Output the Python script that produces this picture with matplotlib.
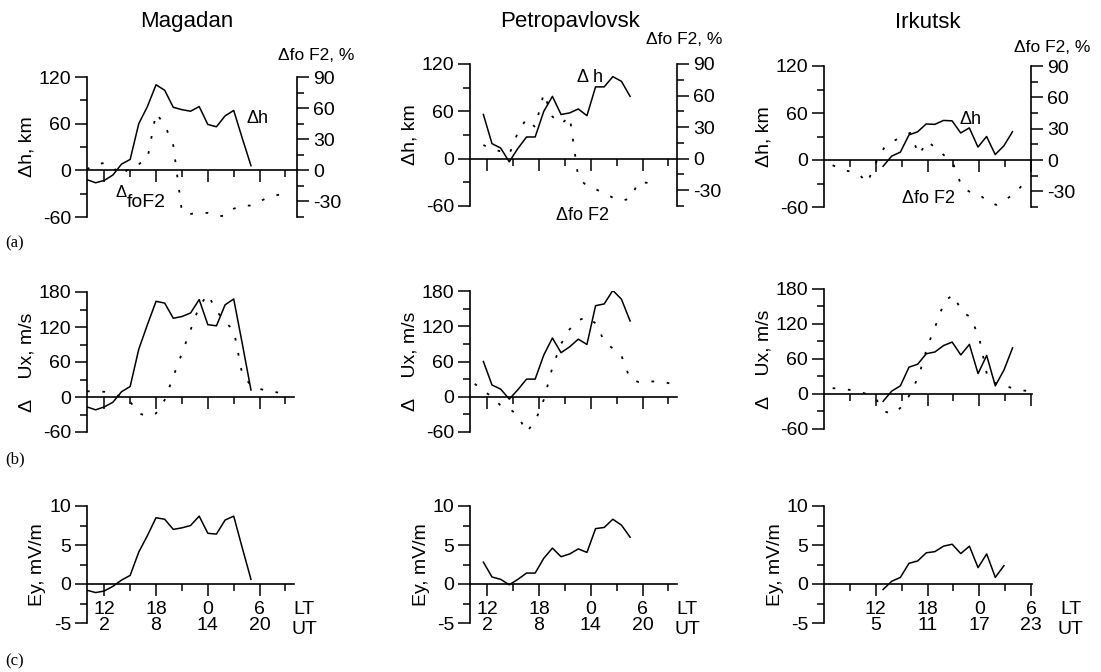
import matplotlib
matplotlib.use('Agg')
import matplotlib.pyplot as plt

plt.rcParams['font.family'] = ['Liberation Sans', 'DejaVu Sans']
plt.rcParams['axes.unicode_minus'] = False

# ---- data (LT hours, 24 = local midnight) ----
mag_lt = list(range(10, 30))
mag_dh = [-12, -16, -13, -6, 8, 14, 60, 82, 110, 103, 81, 78, 76, 82, 59, 56, 70, 77, 41, 6]
mag_ux = [-17, -22, -17, -9, 9, 18, 82, 124, 164, 161, 135, 138, 144, 167, 124, 122, 158, 168, 91, 12]
mag_ey = [-0.8, -1.1, -0.9, -0.3, 0.5, 1.1, 4.1, 6.2, 8.5, 8.3, 7.0, 7.2, 7.5, 8.7, 6.5, 6.4, 8.2, 8.7, 4.6, 0.6]
mag_dot_lt = list(range(10, 34))
mag_fof2 = [1, 6, 7, 3, -5, 3, 6, 11, 55, 44, 24, -40, -42, -41, -41, -44, -44, -37, -34, -34, -30, -26, -24, -22]
mag_ux_dot = [10, 9, 9, 5, 0, -8, -28, -33, -28, -5, 35, 75, 115, 155, 176, 148, 128, 115, 38, 20, 14, 10, 8, 6]

pet_lt = [11.55 + k for k in range(18)]
pet_dh = [56, 19, 13.5, -4, 13, 27.5, 27.5, 60, 79, 56, 58, 63, 54.5, 91, 91, 104, 98, 79]
pet_ux = [60, 20, 13, -4, 12, 30, 30, 71, 100, 75, 85, 98, 89, 155, 158, 181, 166, 129]
pet_ey = [2.8, 0.9, 0.6, -0.1, 0.6, 1.4, 1.4, 3.3, 4.6, 3.5, 3.85, 4.5, 4.05, 7.1, 7.25, 8.3, 7.55, 6.0]
pet_fof2_lt = [11.55 + k for k in range(21)]
pet_fof2 = [13, 9, 7, 4, 25, 38, 30, 62, 40, 33, 40, -18, -26, -29, -33, -37, -40, -38, -22, -23, -25]
pet_ux_dot_lt = [10.55 + k for k in range(24)]
pet_ux_dot = [22, 10, 0, -15, -20, -32, -60, -42, -5, 50, 90, 115, 130, 136, 125, 95, 82, 70, 30, 25, 26, 26, 25, 21]

irk_lt = [12.85 + k for k in range(16)]
irk_dh = [-8, 5, 10, 32, 36, 46, 45.5, 50.5, 50, 34.5, 41, 16.5, 30, 7, 18, 36]
irk_ux = [-12.5, 5, 14, 46, 51, 69, 72, 83, 89, 67, 85, 35, 66, 14, 41, 79]
irk_ey = [-0.7, 0.35, 0.85, 2.65, 2.95, 4.0, 4.15, 4.85, 5.1, 3.9, 4.85, 2.1, 3.85, 0.85, 2.35]
irk_dot_lt = list(range(7, 31))
irk_fof2 = [-5, -9, -11, -13, -22, -3, 12, 18, 22, 26, 5, 18, 11, 4, -4, -26, -31, -33, -40, -43, -38, -33, -24, -20]
irk_ux_dot = [10, 9, 7, 4, 0, -8, -30, -34, -22, 0, 32, 82, 120, 160, 170, 140, 132, 95, 25, 18, 14, 9, 6, 5]

mag_xlab = ['12\n2', '18\n8', '0\n14', '6\n20']
irk_xlab = ['12\n5', '18\n11', '0\n17', '6\n23']

W, H = 1101, 672
PX_H = 8.63  # pixels per hour
FS = 14
fig = plt.figure(figsize=(W / 100, H / 100), dpi=100)
DOT = (0, (1.5, 7))


def add_px(l, t, r, b):
    return fig.add_axes([l / W, 1 - b / H, (r - l) / W, (b - t) / H])


def style(ax, x0, width, ylim, ymaj, ymin, xmin, xlabels=None):
    ax.set_xlim(x0, x0 + width / PX_H)
    ax.set_ylim(*ylim)
    ax.patch.set_visible(False)
    ax.spines['top'].set_visible(False)
    ax.spines['right'].set_visible(False)
    ax.spines['bottom'].set_position(('data', 0))
    for s in ('left', 'bottom'):
        ax.spines[s].set_linewidth(1.2)
    ax.set_xticks([12, 18, 24, 30])
    ax.set_xticks(xmin, minor=True)
    ax.set_yticks(ymaj)
    ax.set_yticks(ymin, minor=True)
    ax.set_yticklabels([f'{v:g}' for v in ymaj])
    if xlabels:
        ax.set_xticklabels(xlabels, linespacing=0.95)
    else:
        ax.set_xticklabels([])
    ax.tick_params(which='major', direction='out', length=8.5, width=1.1, labelsize=FS, pad=3)
    ax.tick_params(which='minor', direction='out', length=5, width=1.1)
    ax.tick_params(axis='x', which='major', pad=3.5)


cols = [
    dict(l=87, r=297, x0=10, lt=mag_lt, dh=mag_dh, ux=mag_ux, ey=mag_ey,
         flt=mag_dot_lt, fof2=mag_fof2, ult=mag_dot_lt, udot=mag_ux_dot,
         xmin=[15, 21, 27, 33], xlab=mag_xlab, ta=(187, 'Magadan'),
         rows=[(77, 217), (292, 432), (506, 623)], wb=207),
    dict(l=470, r=677, x0=10, lt=pet_lt, dh=pet_dh, ux=pet_ux, ey=pet_ey,
         flt=pet_fof2_lt, fof2=pet_fof2, ult=pet_ux_dot_lt, udot=pet_ux_dot,
         xmin=[15, 21, 27, 33], xlab=mag_xlab, ta=(570, 'Petropavlovsk'),
         rows=[(64, 206), (291, 432), (506, 623)], wb=207),
    dict(l=824, r=1031, x0=6, lt=irk_lt, dh=irk_dh, ux=irk_ux, ey=irk_ey,
         flt=irk_dot_lt, fof2=irk_fof2, ult=irk_dot_lt, udot=irk_ux_dot,
         xmin=[9, 15, 21, 27], xlab=irk_xlab, ta=(928, 'Irkutsk'),
         rows=[(66, 207), (289, 429), (506, 623)], wb=208),
]

for i, c in enumerate(cols):
    l = c['l']
    # row a: delta h (solid) and delta foF2 (dotted, right axis)
    t, b = c['rows'][0]
    ax = add_px(l, t, c['r'], b)
    style(ax, c['x0'], c['r'] - l, (-60, 120), [-60, 0, 60, 120], [-30, 30, 90], c['xmin'])
    ax.plot(c['lt'], c['dh'], color='black', lw=1.1)
    axr = ax.twinx()
    axr.set_ylim(-45, 90)
    for s in ('top', 'bottom', 'left'):
        axr.spines[s].set_visible(False)
    axr.spines['right'].set_linewidth(1.2)
    axr.set_yticks([-30, 0, 30, 60, 90])
    axr.set_yticklabels(['-30', '0', '30', '60', '90'])
    axr.set_yticks([-45, -15, 15, 45, 75], minor=True)
    axr.tick_params(which='major', direction='out', length=8.5, width=1.1, labelsize=FS, pad=3)
    axr.tick_params(which='minor', direction='out', length=5, width=1.1)
    axr.plot(c['flt'], c['fof2'], color='black', lw=1.3, linestyle=DOT)
    ax.set_ylabel('Δh, km', fontsize=FS, labelpad=2)

    # row b: Ux
    t, b = c['rows'][1]
    bx = add_px(l, t, l + c['wb'], b)
    style(bx, c['x0'], c['wb'], (-60, 180), [-60, 0, 60, 120, 180], [-30, 30, 90, 150], c['xmin'])
    bx.plot(c['lt'], c['ux'], color='black', lw=1.1)
    bx.plot(c['ult'], c['udot'], color='black', lw=1.3, linestyle=DOT)
    bx.set_ylabel('Δ    Ux, m/s', fontsize=FS, labelpad=2)

    # row c: Ey
    t, b = c['rows'][2]
    cx = add_px(l, t, l + c['wb'], b)
    style(cx, c['x0'], c['wb'], (-5, 10), [-5, 0, 5, 10], [-2.5, 2.5, 7.5], c['xmin'], c['xlab'])
    cx.plot(c['lt'][:len(c['ey'])], c['ey'], color='black', lw=1.1)
    cx.set_ylabel('Ey, mV/m', fontsize=FS, labelpad=2)
    xe = c['x0'] + 25.2 if i < 2 else c['x0'] + 28.6
    cx.text(xe, -3.3, 'LT', fontsize=FS, ha='center', va='center')
    cx.text(xe, -5.8, 'UT', fontsize=FS, ha='center', va='center', clip_on=False)

    fig.text(c['ta'][0] / W, 1 - 22 / H, c['ta'][1], fontsize=16, ha='center', va='center')
    cols[i]['ax'] = ax

# curve annotations in row a
a0, a1, a2 = cols[0]['ax'], cols[1]['ax'], cols[2]['ax']
a0.text(29.7, 67, 'Δh', fontsize=13, ha='center', va='center')
a0.text(13.9, -29, 'Δ', fontsize=12, ha='center', va='center', clip_on=False)
a0.text(14.6, -41, 'foF2', fontsize=14, ha='left', va='center', clip_on=False)
a1.text(23.9, 103, 'Δ h', fontsize=13, ha='center', va='center')
a1.text(23.0, -72, 'Δfo F2', fontsize=13, ha='center', va='center', clip_on=False)
a2.text(23.0, 52, 'Δh', fontsize=13, ha='center', va='center')
a2.text(18.1, -49, 'Δfo F2', fontsize=13, ha='center', va='center', clip_on=False)

for x, y in [(316, 56), (684, 39), (1052, 48)]:
    fig.text(x / W, 1 - y / H, 'Δfo F2, %', fontsize=12.5, ha='center', va='center')

for y, s in [(243, '(a)'), (459, '(b)'), (661, '(c)')]:
    fig.text(5 / W, 1 - y / H, s, fontsize=12, family='Liberation Serif', ha='left', va='center')

fig.savefig('out.png', dpi=100)
